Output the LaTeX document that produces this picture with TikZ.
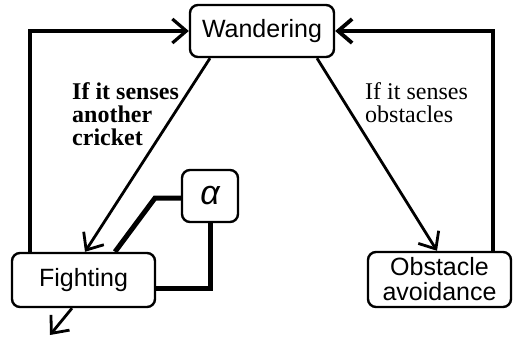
\documentclass[tikz,border=0pt]{standalone}
\usepackage{fontspec}
\setmainfont{Liberation Serif}
\setsansfont{Liberation Sans}
\usetikzlibrary{arrows.meta,calc}
\begin{document}
\begin{tikzpicture}[x=1pt,y=-1pt,
  statebox/.style={draw,line width=2.4pt,rounded corners=8pt,inner sep=0pt,
    font=\sffamily\fontsize{25}{25}\selectfont,align=center},
  flow/.style={line width=2.8pt,-{Straight Barb[length=14pt,width=24pt]}},
  loopline/.style={line width=3.2pt,-{Straight Barb[length=14pt,width=24pt]}},
  thickline/.style={line width=5pt},
  lbl/.style={anchor=north west,align=left,inner sep=0pt,font=\fontsize{24}{23}\selectfont}]
\useasboundingbox (0,0) rectangle (516,337);
\node[statebox,minimum width=144pt,minimum height=52pt] (W) at (262,31) {Wandering};
\node[statebox,minimum width=143pt,minimum height=54pt] (F) at (83.5,280) {Fighting};
\node[statebox,minimum width=143pt,minimum height=55pt] (O) at (439.5,279.5) {Obstacle\\avoidance};
\node[statebox,minimum width=56pt,minimum height=52pt,font=\sffamily\itshape\fontsize{34}{34}\selectfont] (A) at (210,196) {α};
\coordinate (out) at (50,335);
\node[lbl,font=\bfseries\fontsize{24}{23}\selectfont] (L1) at (72,82) {If it senses\\another\\cricket};
\node[lbl] (L2) at (365,82) {If it senses\\obstacles};
\draw[flow] ($(W.south)+(-52,0)$) -- ($(F.north)+(1.5,0)$);
\draw[flow] ($(W.south)+(55,0)$) -- ($(O.north)+(-2.5,0)$);
\draw[loopline] ($(F.north)+(-53.5,0)$) |- (W.west);
\draw[loopline,line width=3.8pt] ($(O.north)+(53.5,0)$) |- (W.east);
\draw[flow] ($(F.south)+(-11.5,0)$) -- (out);
\draw[thickline] ($(A.west)+(0,2)$) -- (155,198) -- ($(F.north)+(31.5,0)$);
\draw[thickline] (A.south) |- ($(F.east)+(0,8)$);
\end{tikzpicture}
\end{document}
